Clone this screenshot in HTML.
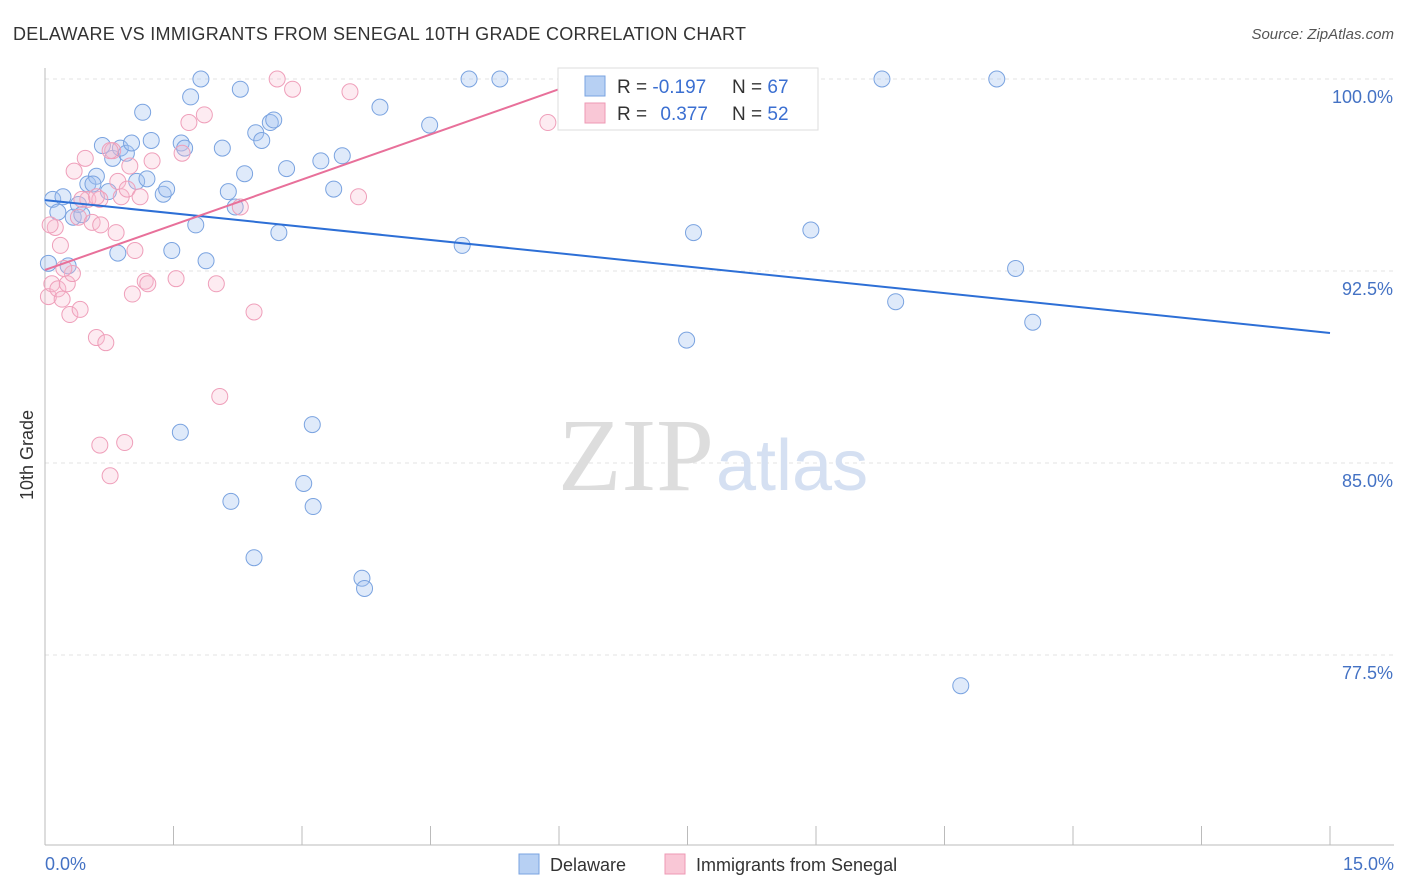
<!DOCTYPE html>
<html><head><meta charset="utf-8"><style>
body{margin:0;background:#fff;font-family:"Liberation Sans",sans-serif}
svg{display:block}
</style></head><body>
<svg width="1406" height="892" xmlns="http://www.w3.org/2000/svg">
<text x="13" y="40" font-size="18" fill="#333" textLength="733">DELAWARE VS IMMIGRANTS FROM SENEGAL 10TH GRADE CORRELATION CHART</text>
<text x="1394" y="39" font-size="15" fill="#555" font-style="italic" text-anchor="end">Source: ZipAtlas.com</text>
<g id="grid"></g>
<text x="714" y="490" font-size="104" fill="#ddd" text-anchor="end" font-family="Liberation Serif">ZIP</text>
<text x="716" y="490" font-size="72" fill="#d5e0f2">atlas</text>
<g id="pts"></g>
<g id="trends"></g>
<text x="33" y="455" font-size="18" fill="#333" transform="rotate(-90 33 455)" text-anchor="middle">10th Grade</text>
<text x="45" y="870" font-size="18" fill="#4472c4">0.0%</text>
<text x="1394" y="870" font-size="18" fill="#4472c4" text-anchor="end">15.0%</text>
<g>
<rect x="558" y="68" width="260" height="62" fill="#fff" stroke="#ddd"/>
<rect x="585" y="76" width="20" height="20" fill="#b7d0f3" stroke="#7aa3e0"/>
<rect x="585" y="103" width="20" height="20" fill="#f9c7d6" stroke="#ee99b4"/>
<text x="617" y="93" font-size="19" fill="#333">R = <tspan fill="#3b6fd1">-0.197</tspan></text>
<text x="732" y="93" font-size="19" fill="#333">N = <tspan fill="#3b6fd1">67</tspan></text>
<text x="617" y="120" font-size="19" fill="#333">R = <tspan fill="#3b6fd1" dx="8">0.377</tspan></text>
<text x="732" y="120" font-size="19" fill="#333">N = <tspan fill="#3b6fd1">52</tspan></text>
</g>
<g>
<rect x="519" y="854" width="20" height="20" fill="#b7d0f3" stroke="#7aa3e0"/>
<text x="550" y="871" font-size="18" fill="#333">Delaware</text>
<rect x="665" y="854" width="20" height="20" fill="#f9c7d6" stroke="#ee99b4"/>
<text x="696" y="871" font-size="18" fill="#333">Immigrants from Senegal</text>
</g>
</svg>
<script>
const yTicks=[100,92.5,85,77.5];
const yTickLabels=["100.0%","92.5%","85.0%","77.5%"];
const xTicks=[0,1.5,3,4.5,6,7.5,9,10.5,12,13.5,15];
const blueX=[0.09,0.21,0.15,0.33,0.39,0.43,0.5,0.6,0.56,0.67,0.74,0.79,0.88,0.95,1.01,0.85,1.07,1.14,1.19,1.24,1.38,1.42,1.48,1.59,1.63,1.58,1.70,1.76,1.82,1.88,2.07,2.14,2.17,2.22,2.28,2.33,2.44,2.46,2.53,2.63,2.67,2.73,2.82,3.02,3.13,3.12,3.22,3.37,3.47,3.70,3.73,3.91,4.49,4.87,4.95,5.31,7.49,7.57,8.94,9.77,9.93,10.69,11.11,11.33,11.53,0.27,0.04];
const blueY=[95.3,95.4,94.8,94.6,95.1,94.7,95.9,96.2,95.9,97.4,95.6,96.9,97.3,97.1,97.5,93.2,96.0,98.7,96.1,97.6,95.5,95.7,93.3,97.5,97.3,86.2,99.3,94.3,100,92.9,97.3,95.6,83.5,95.0,99.6,96.3,81.3,97.9,97.6,98.3,98.4,94.0,96.5,84.2,83.3,86.5,96.8,95.7,97.0,80.5,80.1,98.9,98.2,93.5,100,100,89.8,94.0,94.1,100,91.3,76.3,100,92.6,90.5,92.7,92.8];
const pinkX=[0.04,0.08,0.12,0.15,0.18,0.2,0.26,0.29,0.32,0.34,0.39,0.41,0.47,0.5,0.55,0.6,0.64,0.65,0.71,0.76,0.79,0.83,0.85,0.89,0.93,0.96,0.99,1.02,1.05,1.11,1.17,1.2,1.25,1.53,1.6,1.68,1.86,2.0,2.04,2.28,2.44,2.71,2.89,3.56,3.66,5.87,0.64,0.22,0.76,0.6,0.43,0.06];
const pinkY=[91.5,92.0,94.2,91.8,93.5,91.4,92.0,90.8,92.4,96.4,94.6,91.0,96.9,95.3,94.4,89.9,85.7,94.3,89.7,84.5,97.2,94.0,96.0,95.4,85.8,95.7,96.6,91.6,93.3,95.4,92.1,92.0,96.8,92.2,97.1,98.3,98.6,92.0,87.6,95.0,90.9,100,99.6,99.5,95.4,98.3,95.3,92.6,97.2,95.4,95.3,94.3];
const blueTrend=[95.27,90.08];
const pinkTrendX=[0,6.0];
const pinkTrendY=[92.54,99.6];
const X=v=>45+v/15*1285, Y=v=>79+(100-v)*25.6;
const NS="http://www.w3.org/2000/svg";
function mk(t,a,p){const e=document.createElementNS(NS,t);for(const k in a)e.setAttribute(k,a[k]);p.appendChild(e);return e;}
const g=document.getElementById('grid');
yTicks.forEach((v,i)=>{const l=mk('line',{x1:45,x2:1394,y1:Y(v),y2:Y(v),stroke:'#e3e3e3','stroke-dasharray':'4,4'},g);


const t=mk('text',{x:1393,y:Y(v)+24,'font-size':18,fill:'#4472c4','text-anchor':'end'},g);t.textContent=yTickLabels[i];

});
const ax=mk('line',{x1:45,x2:45,y1:68,y2:845,stroke:'#bbb'},g);


const bx=mk('line',{x1:45,x2:1394,y1:845,y2:845,stroke:'#bbb'},g);


xTicks.forEach(v=>{const t=mk('line',{x1:X(v),x2:X(v),y1:826,y2:845,stroke:'#bbb'},g);

});
const p=document.getElementById('pts');
blueX.forEach((v,i)=>{const c=mk('circle',{cx:X(v),cy:Y(blueY[i]),r:8,fill:'rgba(164,196,240,0.35)',stroke:'#7aa3e0','stroke-width':1},p);

});
pinkX.forEach((v,i)=>{const c=mk('circle',{cx:X(v),cy:Y(pinkY[i]),r:8,fill:'rgba(248,190,208,0.3)',stroke:'#ef9fba','stroke-width':1},p);

});
const tr=document.getElementById('trends');
const b=mk('line',{x1:X(0),y1:Y(blueTrend[0]),x2:X(15),y2:Y(blueTrend[1]),stroke:'#2d6fd6','stroke-width':2},tr);


const k=mk('line',{x1:X(pinkTrendX[0]),y1:Y(pinkTrendY[0]),x2:X(pinkTrendX[1]),y2:Y(pinkTrendY[1]),stroke:'#e8709a','stroke-width':2},tr);


</script>
</body></html>
